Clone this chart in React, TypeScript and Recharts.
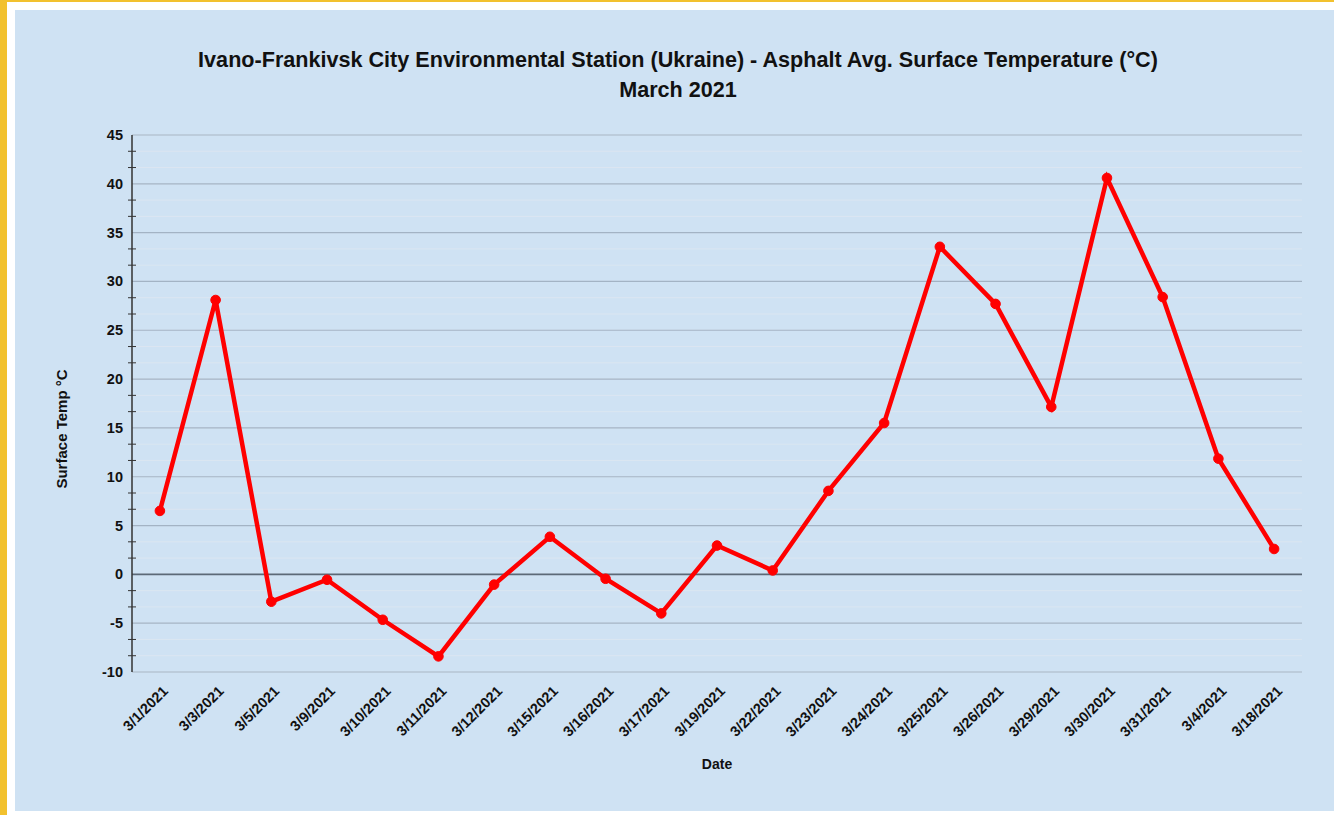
import { CartesianGrid, Line, LineChart, ReferenceLine, XAxis, YAxis } from "recharts";

const dates = [
  "3/1/2021", "3/3/2021", "3/5/2021", "3/9/2021", "3/10/2021", "3/11/2021", "3/12/2021",
  "3/15/2021", "3/16/2021", "3/17/2021", "3/19/2021", "3/22/2021", "3/23/2021", "3/24/2021",
  "3/25/2021", "3/26/2021", "3/29/2021", "3/30/2021", "3/31/2021", "3/4/2021", "3/18/2021",
];
const surfaceTemp = [
  6.5, 28.1, -2.8, -0.55, -4.65, -8.4, -1.05,
  3.85, -0.45, -4.0, 2.95, 0.4, 8.55, 15.5,
  33.55, 27.7, 17.15, 40.6, 28.4, 11.85, 2.6,
];
const yMajorTicks = [-10, -5, 0, 5, 10, 15, 20, 25, 30, 35, 40, 45];

const data = dates.map((date, i) => ({ date, temp: surfaceTemp[i] }));

// minor ticks at thirds between major ticks
const yTicks: number[] = [];
yMajorTicks.forEach((t, i) => {
  yTicks.push(t);
  if (i < yMajorTicks.length - 1) {
    yTicks.push(t + 5 / 3, t + 10 / 3);
  }
});
const isMajor = (v: number) => yMajorTicks.some((t) => Math.abs(t - v) < 1e-6);

const FONT = "'Liberation Sans', Arial, sans-serif";

function YTick(props: any) {
  const { x, y, payload } = props;
  const v = payload.value as number;
  if (isMajor(v)) {
    return (
      <text x={x - 1} y={y} dy={5} textAnchor="end" fontFamily={FONT} fontSize={14.5} fontWeight="bold" fill="#111">
        {v}
      </text>
    );
  }
  return <line x1={x + 4} x2={x + 12} y1={y} y2={y} stroke="#333" strokeWidth={1} />;
}

function XTick(props: any) {
  const { x, y, payload } = props;
  return (
    <text
      x={x + 9}
      y={y + 12}
      textAnchor="end"
      transform={`rotate(-45 ${x + 9} ${y + 12})`}
      fontFamily={FONT}
      fontSize={14.5}
      fontWeight="bold"
      fill="#111"
    >
      {payload.value}
    </text>
  );
}

export default function App() {
  return (
    <div style={{ position: "absolute", left: 0, top: 0, width: 1334, height: 815, background: "#f2c12e" }}>
      <div style={{ position: "absolute", left: 7, top: 2, right: 0, bottom: 0, background: "#ffffff" }} />
      <div
        style={{
          position: "absolute",
          left: 15,
          top: 10,
          width: 1319,
          height: 801,
          background: "#cfe2f3",
          fontFamily: FONT,
        }}
      >
        <div
          style={{
            position: "absolute",
            left: 0,
            width: 1326,
            top: 35,
            textAlign: "center",
            fontWeight: "bold",
            fontSize: 21.6,
            lineHeight: "30px",
            color: "#111",
          }}
        >
          Ivano-Frankivsk City Environmental Station (Ukraine) - Asphalt Avg. Surface Temperature (°C)
          <br />
          March 2021
        </div>
        <div
          style={{
            position: "absolute",
            left: 46,
            top: 419,
            transform: "translate(-50%, -50%) rotate(-90deg)",
            whiteSpace: "nowrap",
            fontWeight: "bold",
            fontSize: 15,
            color: "#111",
          }}
        >
          Surface Temp °C
        </div>
        <div
          style={{
            position: "absolute",
            left: 702,
            top: 754,
            transform: "translate(-50%, -50%)",
            fontWeight: "bold",
            fontSize: 14,
            color: "#111",
          }}
        >
          Date
        </div>
        <LineChart
          width={1319}
          height={801}
          data={data}
          margin={{ top: 125, right: 32, bottom: 0, left: 0 }}
          style={{ position: "absolute", left: 0, top: 0 }}
        >
          <CartesianGrid vertical={false} stroke="#dbe6f1" strokeWidth={1} />
          {yMajorTicks.map((t) => (
            <ReferenceLine key={t} y={t} stroke={t === 0 ? "#5c6977" : "#a3b3c4"} strokeWidth={t === 0 ? 1.6 : 1.2} />
          ))}
          <XAxis
            dataKey="date"
            interval={0}
            height={139}
            padding={{ left: 27.9, right: 27.9 }}
            axisLine={false}
            tickLine={false}
            tick={<XTick />}
          />
          <YAxis
            domain={[-10, 45]}
            ticks={yTicks}
            interval={0}
            width={117}
            axisLine={{ stroke: "#333", strokeWidth: 1.5 }}
            tickLine={false}
            tick={<YTick />}
            allowDataOverflow
          />
          <Line
            dataKey="temp"
            stroke="#ff0000"
            strokeWidth={4.5}
            dot={{ r: 4.8, fill: "#ff0000", stroke: "#ff0000", strokeWidth: 1 }}
            activeDot={false}
            isAnimationActive={false}
          />
        </LineChart>
      </div>
    </div>
  );
}
